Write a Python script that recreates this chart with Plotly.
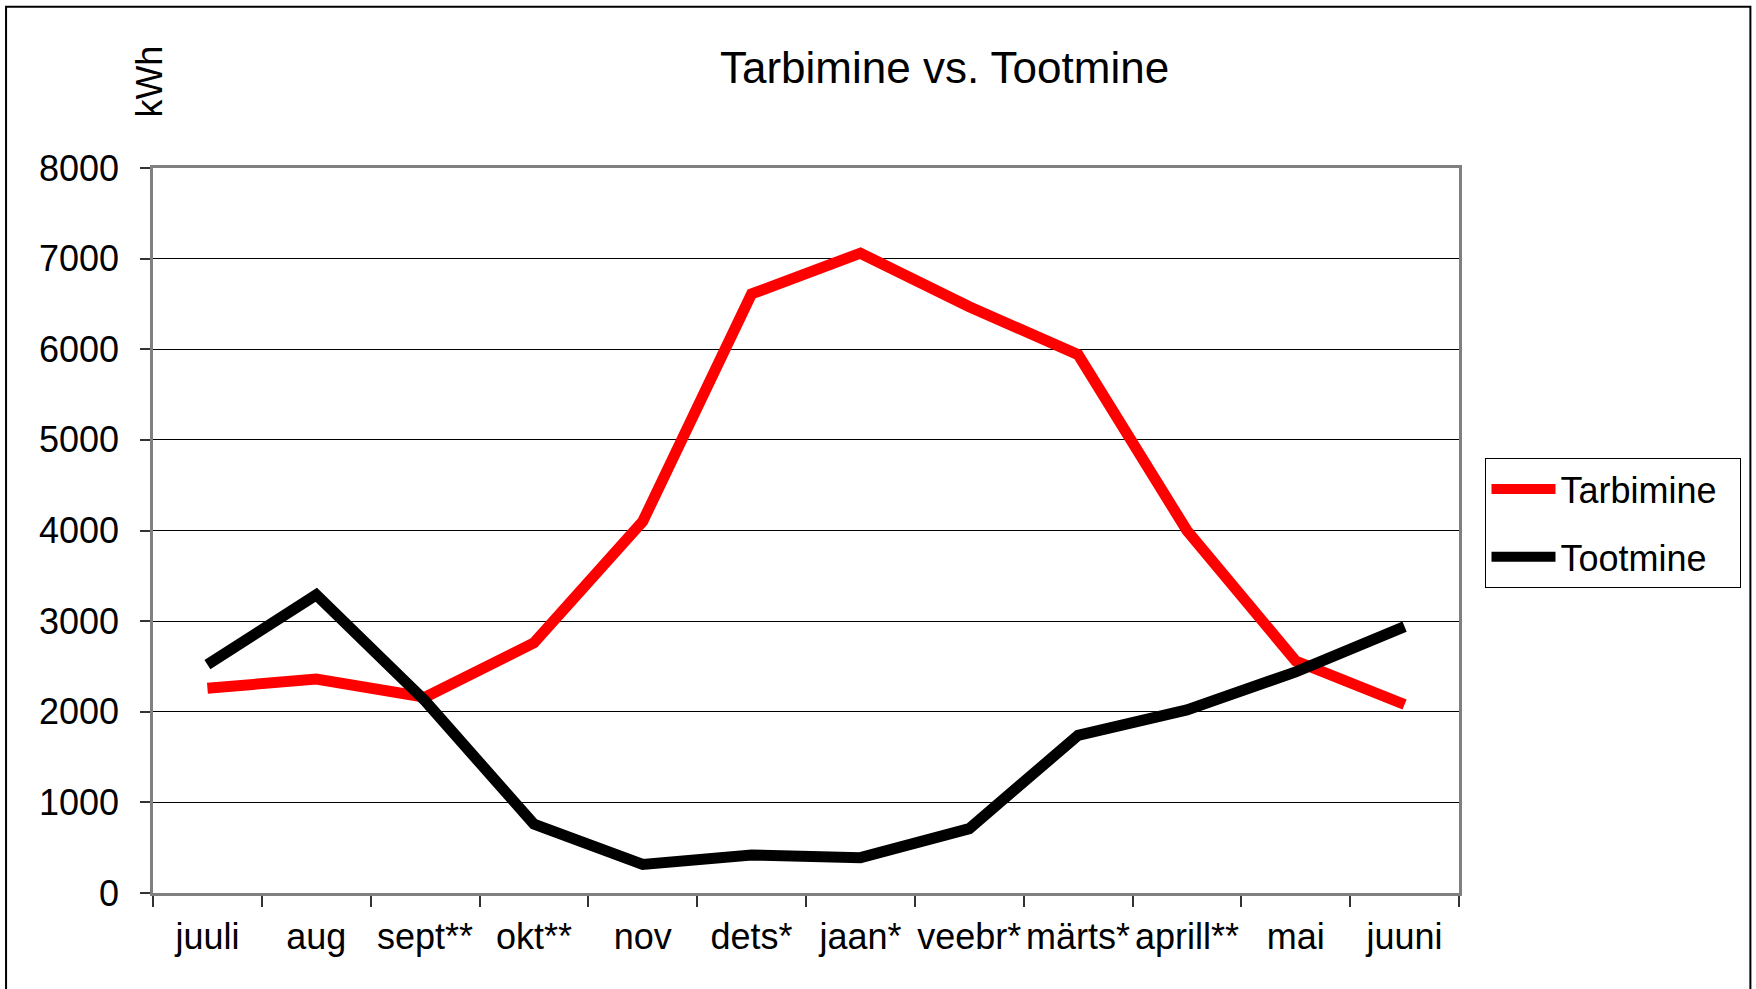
import plotly.graph_objects as go

months = ["juuli", "aug", "sept**", "okt**", "nov", "dets*", "jaan*", "veebr*",
          "märts*", "aprill**", "mai", "juuni"]
tarbimine = [2260, 2360, 2160, 2760, 4100, 6610, 7060, 6470, 5940, 4000, 2560, 2080]
tootmine = [2520, 3290, 2120, 760, 315, 420, 390, 710, 1740, 2020, 2440, 2940]
y_ticks = [0, 1000, 2000, 3000, 4000, 5000, 6000, 7000, 8000]

W, H = 1756, 989
L, R, T, B = 153, 1459.5, 167.5, 893.5
PW, PH = R - L, B - T


def px(x):
    return (x - L) / PW


def py(y):
    return (B - y) / PH


FONT = "Arial, Liberation Sans, sans-serif"
PAD = "\u2002"  # legend right padding

fig = go.Figure()
fig.add_trace(go.Scatter(x=months, y=tarbimine, name="Tarbimine" + PAD, mode="lines",
                         line=dict(color="#FF0000", width=11), legendgroup="a"))
fig.add_trace(go.Scatter(x=months, y=tootmine, name="Tootmine" + PAD, mode="lines",
                         line=dict(color="#000000", width=11), legendgroup="b"))

fig.update_layout(
    width=W, height=H,
    margin=dict(l=L, r=W - R, t=T, b=H - B, pad=0, autoexpand=False),
    paper_bgcolor="white", plot_bgcolor="white",
    font=dict(family=FONT, size=36, color="black"),
    showlegend=True,
    legend=dict(x=px(1486), y=py(458), xanchor="left", yanchor="top",
                bgcolor="white", bordercolor="#000000", borderwidth=1,
                font=dict(family=FONT, size=36, color="black"),
                tracegroupgap=18, itemwidth=64),
    xaxis=dict(type="category", range=[-0.5, len(months) - 0.5], showgrid=False,
               showline=True, mirror=True, automargin=False, tickangle=0,
               linecolor="#808080", linewidth=2.5, ticks="outside", ticklen=11,
               tickwidth=1.5, tickcolor="#333333", tickson="boundaries",
               tickfont=dict(family=FONT, size=36, color="black"),
               ticklabelstandoff=10, fixedrange=True),
    yaxis=dict(range=[0, 8000], tickvals=y_ticks, showgrid=True, automargin=False,
               gridcolor="#000000", gridwidth=1, zeroline=False,
               showline=True, mirror=True, linecolor="#808080", linewidth=2.5,
               ticks="outside", ticklen=10, tickwidth=1.5, tickcolor="#333333",
               tickfont=dict(family=FONT, size=36, color="black"),
               ticklabelstandoff=14, fixedrange=True),
    annotations=[
        dict(text="Tarbimine vs. Tootmine", x=px(945), y=py(67), xref="paper", yref="paper",
             xanchor="center", yanchor="middle", showarrow=False,
             font=dict(family=FONT, size=44, color="black")),
        dict(text="kWh", x=px(150), y=py(81), xref="paper", yref="paper",
             xanchor="center", yanchor="middle", showarrow=False, textangle=-90,
             font=dict(family=FONT, size=36, color="black")),
    ],
    shapes=[
        dict(type="rect", xref="paper", yref="paper", x0=px(6), x1=px(1751),
             y0=py(1000), y1=py(6), line=dict(color="#000000", width=2), layer="below"),
    ],
)

fig.write_html("out.html", config={"displayModeBar": False},
               post_script="document.body.style.margin='0';document.body.style.overflow='hidden';")
